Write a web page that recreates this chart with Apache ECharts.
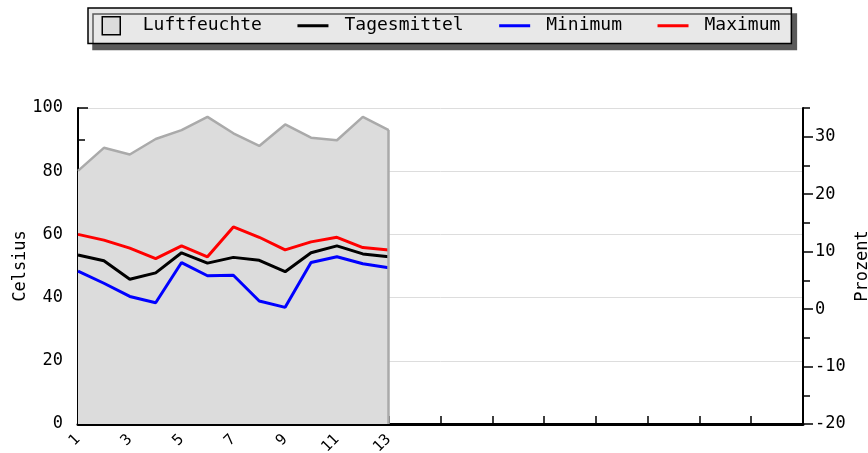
<!DOCTYPE html>
<html>
<head>
<meta charset="utf-8">
<script src="https://cdn.jsdelivr.net/npm/echarts@6/dist/echarts.min.js"></script>
<style>
  html, body { margin: 0; padding: 0; background: #ffffff; }
  #chart { width: 868px; height: 453px; }
</style>
</head>
<body>
<div id="chart"></div>
<script>
// Days of the month (x axis categories)
const days = ['1','2','3','4','5','6','7','8','9','10','11','12','13','14','15',
              '16','17','18','19','20','21','22','23','24','25','26','27','28','29'];

// Relative humidity (%), left axis
const humidity = [80.1, 87.4, 85.3, 90.2, 93.0, 97.2, 92.0, 88.0, 94.8, 90.6, 89.8, 97.2, 93.0];

// Temperatures (°C), right axis
const tMean = [9.4, 8.4, 5.2, 6.3, 9.8, 8.0, 9.0, 8.5, 6.5, 9.8, 11.0, 9.6, 9.1];
const tMin  = [6.6, 4.5, 2.2, 1.1, 8.1, 5.8, 5.9, 1.4, 0.3, 8.1, 9.1, 7.9, 7.2];
const tMax  = [13.0, 12.0, 10.6, 8.8, 11.0, 9.1, 14.3, 12.5, 10.3, 11.7, 12.5, 10.7, 10.3];

// Axis tick values
const leftTicks = [0, 20, 40, 60, 80, 100];
const rightTicks = [-20, -10, 0, 10, 20, 30];
const lastLabelDay = 13;

const FONT = '"DejaVu Sans Mono", "Liberation Mono", monospace';
const chart = echarts.init(document.getElementById('chart'), null, { renderer: 'canvas' });

const lastIdx = humidity.length - 1;

chart.setOption({
  animation: false,
  backgroundColor: '#ffffff',
  textStyle: { fontFamily: FONT, color: '#000' },
  legend: {
    left: 88,
    top: 8,
    padding: [8, 11, 8, 13.5],
    itemGap: 35.5,
    itemWidth: 31,
    itemHeight: 18,
    selectedMode: false,
    backgroundColor: '#e8e8e8',
    borderColor: '#000',
    borderWidth: 1.5,
    shadowColor: '#5a5a5a',
    shadowBlur: 0,
    shadowOffsetX: 5,
    shadowOffsetY: 6,
    textStyle: { fontFamily: FONT, fontSize: 18, color: '#000', padding: [0, 0, 0, 11] },
    data: [
      { name: 'Luftfeuchte', icon: 'path://M0,0H18V18H0Z',
        itemStyle: { color: '#dcdcdc', borderColor: '#000', borderWidth: 1.5 } },
      { name: 'Tagesmittel', icon: 'path://M0,0H31V3H0Z', itemStyle: { color: '#000000', borderWidth: 0 } },
      { name: 'Minimum', icon: 'path://M0,0H31V3H0Z', itemStyle: { color: '#0000ff', borderWidth: 0 } },
      { name: 'Maximum', icon: 'path://M0,0H31V3H0Z', itemStyle: { color: '#ff0000', borderWidth: 0 } }
    ]
  },
  grid: { left: 78, right: 65, top: 108, bottom: 29, containLabel: false, outerBoundsMode: 'none' },
  xAxis: {
    type: 'category',
    data: days,
    boundaryGap: false,
    axisLine: { lineStyle: { color: '#000', width: 3 } },
    axisTick: { show: true, inside: true, length: 8, interval: 1, lineStyle: { color: '#000', width: 1.5 } },
    axisLabel: {
      interval: 1,
      rotate: 45,
      margin: 13,
      fontFamily: FONT,
      fontSize: 15,
      color: '#000',
      formatter: v => (Number(v) <= lastLabelDay ? v : '')
    },
    splitLine: { show: false }
  },
  yAxis: [
    {
      type: 'value',
      position: 'left',
      min: leftTicks[0],
      max: leftTicks[leftTicks.length - 1],
      interval: 20,
      name: 'Celsius',
      nameLocation: 'middle',
      nameRotate: 90,
      nameGap: 49,
      nameMoveOverlap: false,
      nameTextStyle: { fontFamily: FONT, fontSize: 17, color: '#000' },
      axisLine: { show: true, lineStyle: { color: '#000', width: 2 } },
      axisTick: { show: true, inside: true, length: 10, lineStyle: { color: '#000', width: 1.5 } },
      minorTick: { show: true, splitNumber: 2, length: 7, lineStyle: { color: '#000', width: 1.5 } },
      axisLabel: { margin: 15, fontFamily: FONT, fontSize: 17, color: '#000' },
      splitLine: { show: true, lineStyle: { color: '#dddddd', width: 1 } }
    },
    {
      type: 'value',
      position: 'right',
      min: -20,
      max: 35,
      interval: 10,
      name: 'Prozent',
      nameLocation: 'middle',
      nameRotate: 90,
      nameGap: 51,
      nameMoveOverlap: false,
      nameTextStyle: { fontFamily: FONT, fontSize: 17, color: '#000' },
      axisLine: { show: true, lineStyle: { color: '#000', width: 2 } },
      axisTick: { show: true, inside: false, length: 10, customValues: rightTicks,
                  lineStyle: { color: '#000', width: 1.5 } },
      axisLabel: { margin: 12, fontFamily: FONT, fontSize: 17, color: '#000',
                   customValues: rightTicks,
                   formatter: v => (rightTicks.indexOf(v) >= 0 ? String(v) : '') },
      splitLine: { show: false }
    },
    {
      // short intermediate ticks on the temperature scale
      type: 'value',
      position: 'right',
      min: -20,
      max: 35,
      interval: 5,
      axisLine: { show: false },
      axisTick: { show: true, inside: false, length: 7, lineStyle: { color: '#000', width: 1.5 } },
      axisLabel: { show: false },
      splitLine: { show: false }
    }
  ],
  series: [
    {
      name: 'Luftfeuchte',
      type: 'line',
      yAxisIndex: 0,
      data: humidity,
      symbol: 'none',
      lineStyle: { color: '#aaaaaa', width: 2.5 },
      itemStyle: { color: '#aaaaaa' },
      areaStyle: { color: '#dcdcdc', opacity: 1, origin: 'start' },
      markLine: {
        silent: true,
        symbol: 'none',
        label: { show: false },
        lineStyle: { color: '#aaaaaa', width: 2.5, type: 'solid' },
        data: [[
          { coord: [days[lastIdx], 0] },
          { coord: [days[lastIdx], humidity[lastIdx]] }
        ]]
      },
      z: 1
    },
    {
      name: 'Tagesmittel',
      type: 'line',
      yAxisIndex: 1,
      data: tMean,
      symbol: 'none',
      lineStyle: { color: '#000000', width: 3 },
      itemStyle: { color: '#000000' },
      z: 3
    },
    {
      name: 'Minimum',
      type: 'line',
      yAxisIndex: 1,
      data: tMin,
      symbol: 'none',
      lineStyle: { color: '#0000ff', width: 3 },
      itemStyle: { color: '#0000ff' },
      z: 3
    },
    {
      name: 'Maximum',
      type: 'line',
      yAxisIndex: 1,
      data: tMax,
      symbol: 'none',
      lineStyle: { color: '#ff0000', width: 3 },
      itemStyle: { color: '#ff0000' },
      z: 3
    }
  ]
});
</script>
</body>
</html>
